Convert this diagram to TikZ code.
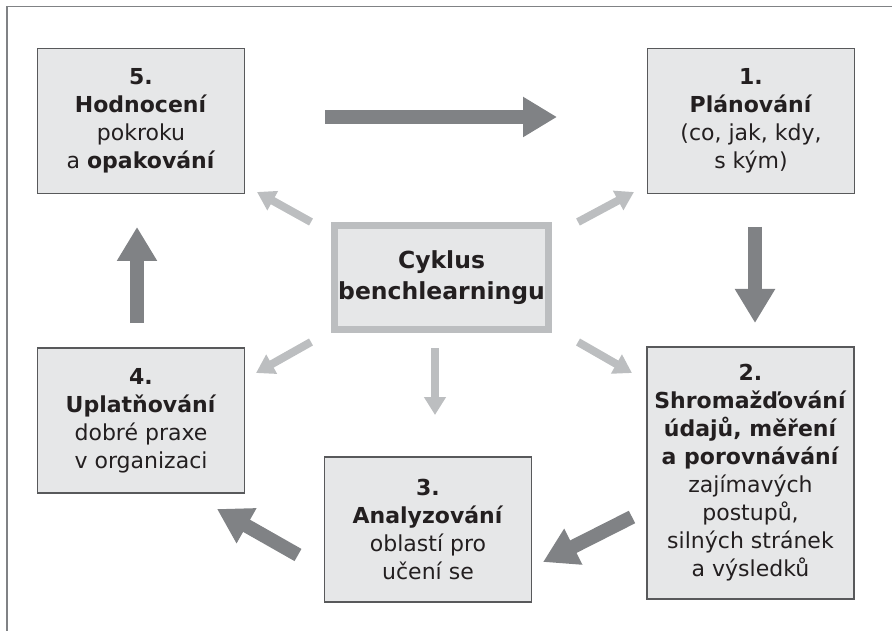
\documentclass[tikz,border=0pt]{standalone}
\usepackage{fontspec}
\setmainfont{DejaVu Sans}
\usetikzlibrary{arrows.meta}
\definecolor{darkarr}{HTML}{808285}
\definecolor{lightarr}{HTML}{BCBEC0}
\definecolor{boxfill}{HTML}{E6E7E8}
\definecolor{boxline}{HTML}{58595B}
\definecolor{framecol}{HTML}{808285}
\definecolor{txt}{HTML}{231F20}
\tikzset{
  stagebox/.style={draw=boxline, line width=1.2pt, fill=boxfill, inner sep=0pt,
    minimum width=207pt, minimum height=145pt, align=center, text=txt,
    font=\fontsize{22}{28}\selectfont},
  centerbox/.style={draw=lightarr, line width=7pt, fill=boxfill, inner sep=0pt,
    minimum width=214pt, minimum height=104pt, align=center, text=txt,
    font=\fontsize{23.5}{31}\selectfont\bfseries},
  darkarrow/.style={draw=darkarr, line width=14pt, line cap=butt,
    -{Triangle[length=34pt,width=38pt]}},
  lightarrow/.style={draw=lightarr, line width=8pt, line cap=butt,
    -{Triangle[length=18pt,width=21pt]}},
  framestyle/.style={draw=framecol, line width=1.5pt}
}
\begin{document}
\begin{tikzpicture}[x=1pt,y=-1pt]
\useasboundingbox (0,0) rectangle (892,631);
\draw[framestyle] (7,631) -- (7,6.5) -- (892,6.5);

\node[stagebox] (n5) at (141,121) {\textbf{5.}\\ \textbf{Hodnocení}\\ pokroku\\ a \textbf{opakování}};
\node[stagebox] (n1) at (751,121) {\textbf{1.}\\ \textbf{Plánování}\\ (co, jak, kdy,\\ s kým)};
\node[stagebox, minimum height=252pt] (n2) at (750.5,473) {\textbf{2.}\\ \textbf{Shromažďování}\\ \textbf{údajů, měření}\\ \textbf{a porovnávání}\\ zajímavých\\ postupů,\\ silných stránek\\ a výsledků};
\node[stagebox] (n3) at (428,529.5) {\textbf{3.}\\ \textbf{Analyzování}\\ oblastí pro\\ učení se};
\node[stagebox] (n4) at (141,420.5) {\textbf{4.}\\ \textbf{Uplatňování}\\ dobré praxe\\ v organizaci};
\node[centerbox] (c) at (441.5,277.5) {Cyklus\\ benchlearningu};

% dark cycle arrows
\coordinate (d51s) at (325,117);  \coordinate (d51e) at (557,117);
\coordinate (d12s) at (755,227);  \coordinate (d12e) at (755,323);
\coordinate (d23s) at (632,517);  \coordinate (d23e) at (543,562);
\coordinate (d34s) at (298,555);  \coordinate (d34e) at (217,509);
\coordinate (d45s) at (137,323);  \coordinate (d45e) at (137,227);
\draw[darkarrow] (d51s) -- (d51e);
\draw[darkarrow] (d12s) -- (d12e);
\draw[darkarrow] (d23s) -- (d23e);
\draw[darkarrow] (d34s) -- (d34e);
\draw[darkarrow] (d45s) -- (d45e);

% light arrows from centre
\coordinate (l5s) at (311,222); \coordinate (l5e) at (257,192);
\coordinate (l1s) at (578,222); \coordinate (l1e) at (634,192);
\coordinate (l4s) at (311,342); \coordinate (l4e) at (256,373);
\coordinate (l2s) at (578,342); \coordinate (l2e) at (632,373);
\coordinate (l3s) at (435,348); \coordinate (l3e) at (435,415);
\draw[lightarrow] (l5s) -- (l5e);
\draw[lightarrow] (l1s) -- (l1e);
\draw[lightarrow] (l4s) -- (l4e);
\draw[lightarrow] (l2s) -- (l2e);
\draw[lightarrow] (l3s) -- (l3e);
\end{tikzpicture}
\end{document}
